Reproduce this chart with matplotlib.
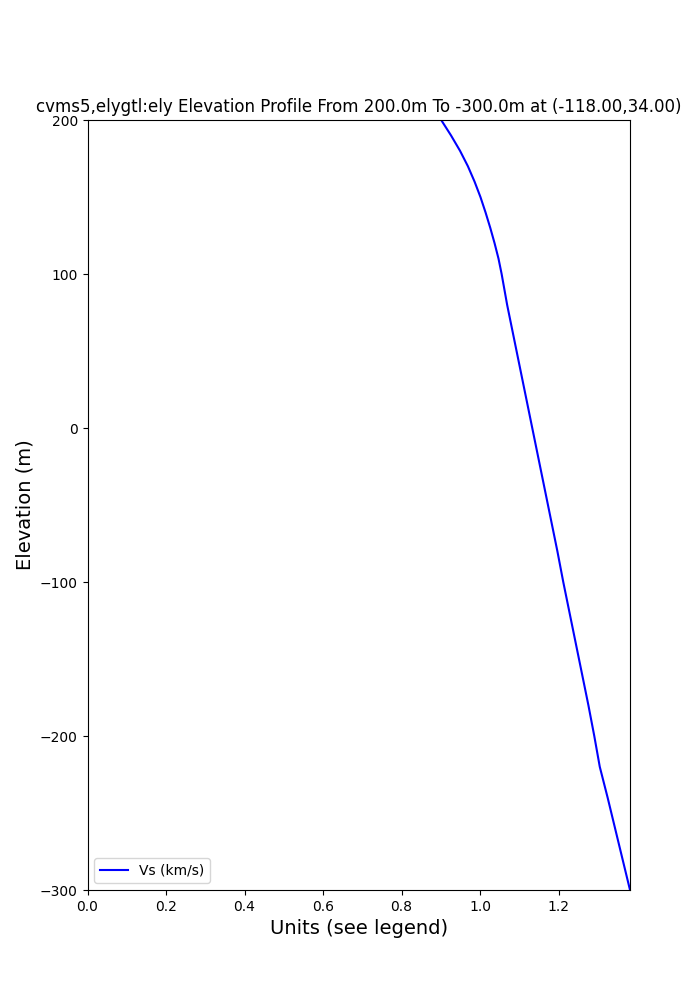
import numpy as np
import matplotlib
matplotlib.use("Agg")
import matplotlib.pyplot as plt

# elevation profile (m) and Vs values (km/s)
elevation = [200, 190, 180, 170, 160, 150, 140, 130, 120, 110, 100, 90, 80,
             60, 40, 20, 0, -20, -40, -60, -80, -100, -120, -140, -160,
             -180, -200, -220, -240, -260, -280, -300]
vs = [0.901, 0.926, 0.949, 0.969, 0.986, 1.001, 1.014, 1.026, 1.037, 1.047,
      1.055, 1.062, 1.069, 1.085, 1.101, 1.117, 1.133, 1.149, 1.165, 1.181,
      1.197, 1.212, 1.228, 1.244, 1.260, 1.276, 1.291, 1.305, 1.325, 1.344,
      1.363, 1.382]

title = "cvms5,elygtl:ely Elevation Profile From 200.0m To -300.0m at (-118.00,34.00)"

fig = plt.figure(figsize=(7, 10), dpi=100)
plt.plot(vs, elevation, color="b", label="Vs (km/s)")
plt.xlim(0, max(vs))
plt.ylim(min(elevation), max(elevation))
plt.xlabel("Units (see legend)", fontsize=14)
plt.ylabel("Elevation (m)", fontsize=14)
plt.title(title, fontsize=12)
plt.legend(loc="lower left")
plt.savefig("out.png", dpi=100)
